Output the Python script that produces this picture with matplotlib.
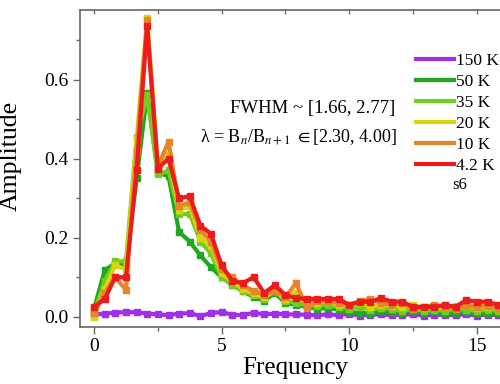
import matplotlib
matplotlib.use("Agg")
import matplotlib.pyplot as plt
from matplotlib.ticker import MultipleLocator

plt.rcParams['font.family'] = ['Liberation Serif', 'DejaVu Serif']
plt.rcParams['mathtext.fontset'] = 'stix'

# frequency grid (step 5/12)
freq = [0.00, 0.42, 0.83, 1.25, 1.67, 2.08, 2.50, 2.92, 3.33, 3.75,
        4.17, 4.58, 5.00, 5.42, 5.83, 6.25, 6.67, 7.08, 7.50, 7.92,
        8.33, 8.75, 9.17, 9.58, 10.00, 10.42, 10.83, 11.25, 11.67, 12.08,
        12.50, 12.92, 13.33, 13.75, 14.17, 14.58, 15.00, 15.42, 15.83, 16.25,
        16.67]

amp_150K = [0.005, 0.008, 0.010, 0.012, 0.011, 0.008, 0.006, 0.004, 0.008, 0.009,
            0.002, 0.009, 0.012, 0.005, 0.004, 0.010, 0.006, 0.008, 0.006, 0.006,
            0.005, 0.004, 0.006, 0.004, 0.007, 0.003, 0.005, 0.006, 0.004, 0.005,
            0.006, 0.003, 0.005, 0.004, 0.004, 0.006, 0.003, 0.005, 0.004, 0.004,
            0.005]
amp_50K = [0.020, 0.118, 0.135, 0.130, 0.350, 0.565, 0.365, 0.355, 0.215, 0.190,
           0.155, 0.125, 0.100, 0.080, 0.065, 0.050, 0.040, 0.060, 0.035, 0.030,
           0.025, 0.020, 0.022, 0.018, 0.012, 0.010, 0.008, 0.015, 0.012, 0.010,
           0.015, 0.010, 0.012, 0.008, 0.010, 0.012, 0.010, 0.008, 0.010, 0.012,
           0.010]
amp_35K = [0.010, 0.090, 0.140, 0.140, 0.455, 0.560, 0.360, 0.370, 0.260, 0.260,
           0.190, 0.160, 0.100, 0.080, 0.065, 0.055, 0.045, 0.068, 0.040, 0.035,
           0.030, 0.028, 0.030, 0.025, 0.020, 0.025, 0.018, 0.022, 0.020, 0.015,
           0.020, 0.015, 0.018, 0.015, 0.020, 0.018, 0.015, 0.018, 0.015, 0.015,
           0.018]
amp_20K = [0.000, 0.070, 0.130, 0.120, 0.450, 0.755, 0.380, 0.410, 0.270, 0.280,
           0.200, 0.180, 0.110, 0.090, 0.070, 0.060, 0.050, 0.065, 0.045, 0.060,
           0.035, 0.035, 0.040, 0.030, 0.030, 0.035, 0.025, 0.030, 0.028, 0.025,
           0.030, 0.022, 0.025, 0.025, 0.028, 0.030, 0.022, 0.025, 0.022, 0.020,
           0.025]
amp_10K = [0.010, 0.060, 0.100, 0.068, 0.420, 0.750, 0.380, 0.443, 0.280, 0.290,
           0.220, 0.190, 0.120, 0.100, 0.080, 0.065, 0.055, 0.065, 0.050, 0.085,
           0.022, 0.040, 0.040, 0.035, 0.030, 0.040, 0.045, 0.035, 0.030, 0.035,
           0.020, 0.025, 0.030, 0.025, 0.020, 0.030, 0.025, 0.028, 0.022, 0.025,
           0.025]
amp_4K = [0.025, 0.045, 0.100, 0.100, 0.370, 0.735, 0.375, 0.400, 0.300, 0.305,
          0.230, 0.210, 0.130, 0.090, 0.085, 0.100, 0.060, 0.080, 0.055, 0.047,
          0.045, 0.045, 0.045, 0.045, 0.030, 0.038, 0.038, 0.047, 0.038, 0.038,
          0.025, 0.025, 0.025, 0.030, 0.025, 0.042, 0.038, 0.038, 0.030, 0.030,
          0.035]

series = [("150 K", amp_150K, "#a030e8"),
          ("50 K", amp_50K, "#1fa81f"),
          ("35 K", amp_35K, "#72cc22"),
          ("20 K", amp_20K, "#d6d60a"),
          ("10 K", amp_10K, "#e8842a"),
          ("4.2 K", amp_4K, "#ec1c1c")]

fig = plt.figure(figsize=(5, 3.84), dpi=100)
ax = fig.add_axes([0.16, 0.1484, 0.86, 0.8255])

handles = []
for label, amp, col in series:
    ax.plot(freq, amp, '-s', color=col, lw=3, ms=5, mec=col)
    h, = ax.plot([], [], '-', color=col, lw=3, label=label)
    handles.append(h)

ax.set_xlim(-0.55, 16.3)
ax.set_ylim(-0.026, 0.776)
ax.xaxis.set_major_locator(MultipleLocator(5))
ax.xaxis.set_minor_locator(MultipleLocator(2.5))
ax.yaxis.set_major_locator(MultipleLocator(0.2))
ax.yaxis.set_minor_locator(MultipleLocator(0.1))
ax.yaxis.set_major_formatter(plt.FuncFormatter(lambda v, p: f"{v:.1f}"))

for s in ax.spines.values():
    s.set_color('#666666')
    s.set_linewidth(1.2)
ax.tick_params(which='both', direction='out', color='#666666', labelsize=14)
ax.tick_params(which='major', length=5, width=1.0)
ax.tick_params(which='minor', length=3, width=1.0)
ax.tick_params(axis='x', pad=3)

# short inward ticks along the top edge
top = ax.secondary_xaxis('top')
top.xaxis.set_major_locator(MultipleLocator(2.5))
top.tick_params(direction='in', length=3, width=1.0, color='#666666', labeltop=False)
top.spines['top'].set_visible(False)

ax.set_xlabel("Frequency", fontsize=18, labelpad=1)
ax.set_ylabel("Amplitude", fontsize=18.5)
ax.yaxis.set_label_coords(-0.135, 0.54)

fig.text(0.79, 0.718, "FWHM ~ [1.66, 2.77]", ha='right', va='center', fontsize=13.5)
fig.text(0.794, 0.643, r"λ = B$_n$/B$_{n+1}$ $\in$[2.30, 4.00]", ha='right',
         va='center', fontsize=13)

leg = fig.legend(handles=handles, loc='upper left', bbox_to_anchor=(0.818, 0.88),
                 frameon=False, fontsize=12.5, handlelength=2.2,
                 handletextpad=0.1, labelspacing=0.28, borderaxespad=0)
fig.text(0.905, 0.518, "s6", ha='left', va='center', fontsize=12)

fig.savefig("out.png", dpi=100)
